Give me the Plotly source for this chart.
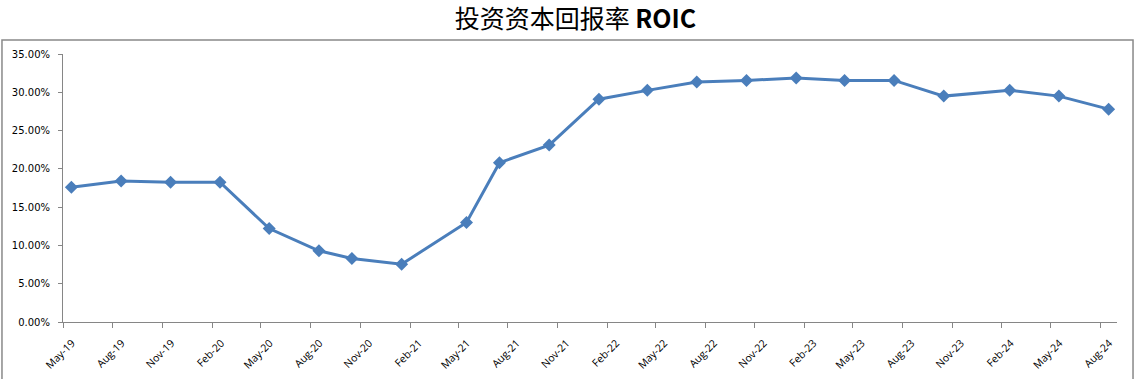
import pandas as pd
import plotly.graph_objects as go

# Data (monthly periods, ROIC in %)
months = ["2019-05", "2019-08", "2019-11", "2020-02", "2020-05", "2020-08",
          "2020-10", "2021-01", "2021-05", "2021-07", "2021-10", "2022-01",
          "2022-04", "2022-07", "2022-10", "2023-01", "2023-04", "2023-07",
          "2023-10", "2024-02", "2024-05", "2024-08"]
roic = [17.6, 18.4, 18.25, 18.25, 12.2, 9.3,
        8.3, 7.55, 13.0, 20.8, 23.1, 29.1,
        30.25, 31.35, 31.55, 31.85, 31.55, 31.55,
        29.5, 30.25, 29.5, 27.8]
title_text = "投资资本回报率 <b>ROIC</b>"

# Excel-style month base unit: each point sits in the middle of its month slot
starts = pd.to_datetime(months, format="%Y-%m")
ends = starts + pd.offsets.MonthBegin(1)
x_dates = starts + (ends - starts) / 2

fig = go.Figure()
fig.add_trace(go.Scatter(
    x=x_dates, y=roic, mode="lines+markers",
    line=dict(color="#4a7ebb", width=3),
    marker=dict(symbol="diamond", size=10, color="#4a7ebb"),
    showlegend=False, hoverinfo="x+y",
))

axis_color = "#868686"

fig.update_layout(
    width=1135, height=379,
    margin=dict(l=63, r=18, t=54, b=57, autoexpand=False),
    paper_bgcolor="white", plot_bgcolor="white",
    title=dict(text=title_text, x=0.507, xanchor="center", y=0.948, yanchor="middle",
               font=dict(family="Noto Sans CJK SC", size=25, color="#000000")),
    xaxis=dict(
        type="date", range=["2019-05-01", "2024-09-01"], automargin=False,
        tick0="2019-05-01", dtick="M3", tickformat="%b-%y", tickangle=-45,
        showgrid=False, zeroline=False, showline=True, linecolor=axis_color, linewidth=1,
        ticks="outside", ticklen=5, tickcolor=axis_color,
        tickfont=dict(family="Open Sans", size=10.5, color="#000000"),
        ticklabelshift=9, ticklabelstandoff=5,
    ),
    yaxis=dict(
        range=[0, 35], tick0=0, dtick=5, tickformat=".2f", ticksuffix="%", automargin=False,
        showgrid=False, zeroline=False, showline=True, linecolor=axis_color, linewidth=1,
        ticks="outside", ticklen=4, tickcolor=axis_color,
        tickfont=dict(family="DejaVu Sans", size=10, color="#000000"),
        ticklabelstandoff=6,
    ),
    shapes=[dict(type="rect", xref="paper", yref="paper",
                 x0=-0.0579, x1=1.0152, y0=-0.22, y1=1.0522,
                 line=dict(color="#898989", width=1.5), fillcolor="rgba(0,0,0,0)",
                 layer="below")],
)

fig.write_html("out.html")
